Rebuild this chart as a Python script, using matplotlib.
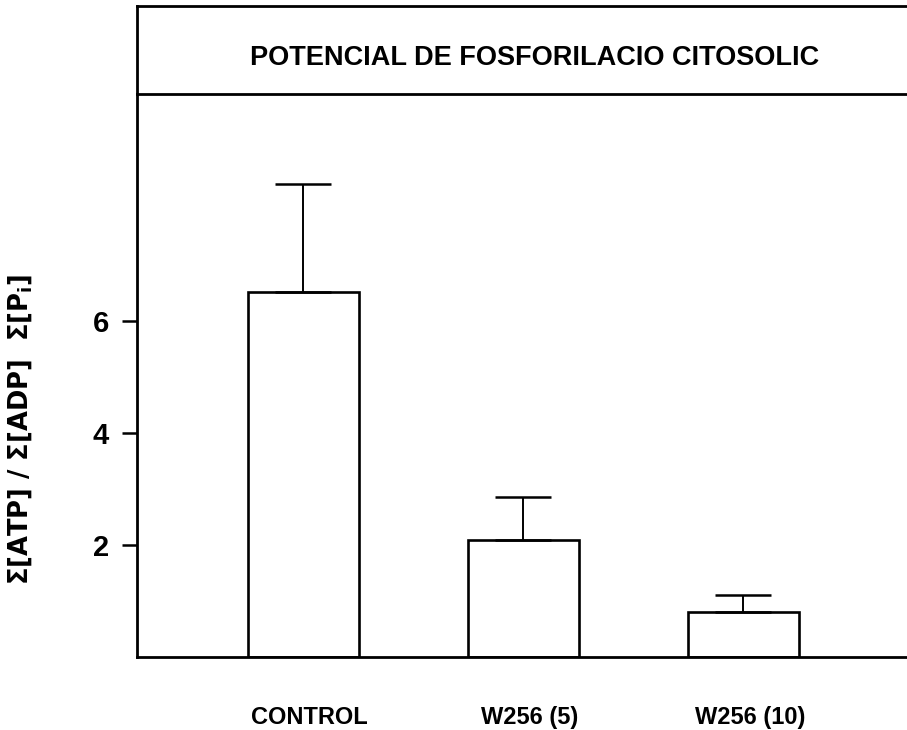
import numpy as np
import matplotlib
matplotlib.use("Agg")
import matplotlib.pyplot as plt

plt.rcParams['font.family'] = ['Liberation Sans', 'DejaVu Sans']

# dades llegides de la figura
grups = ['CONTROL', 'W256 (5)', 'W256 (10)']
mitjanes = [6.52, 2.09, 0.80]
errors = [1.93, 0.77, 0.30]
yticks = [2, 4, 6]

fig = plt.figure(figsize=(9.07, 7.3), dpi=100)

# eix principal
ax = fig.add_axes([0.151, 0.100, 0.849, 0.771])
x = np.arange(len(grups))
ax.bar(x, mitjanes, width=0.505, color='white', edgecolor='black', linewidth=1.9, zorder=2)
ax.errorbar(x, mitjanes, yerr=[np.zeros(len(errors)), errors], fmt='none',
            ecolor='black', elinewidth=1.4, capsize=20, capthick=1.8, zorder=3)

ax.set_xlim(-0.755, 2.745)
ax.set_ylim(0, 10.05)
ax.set_yticks(yticks)
ax.set_yticklabels([str(t) for t in yticks], fontsize=21, fontweight='bold')
ax.set_xticks([])
ax.tick_params(axis='y', direction='out', length=11, width=1.8, pad=9)
for s in ['top', 'right']:
    ax.spines[s].set_visible(False)
for s in ['left', 'bottom']:
    ax.spines[s].set_linewidth(2.0)

for xi, g in zip(x, grups):
    ax.text(xi + 0.03, -1.08, g, ha='center', va='center', fontsize=17, fontweight='bold')

# etiqueta de l'eix y (DejaVu es mes ample, com l'original)
ax.set_ylabel('Σ[ATP] / Σ[ADP]  Σ[P$_\\mathregular{i}$]', fontsize=18.5, fontweight='bold',
              family='DejaVu Sans')
ax.yaxis.set_label_coords(-0.134, 0.405)

# caixa del titol
tax = fig.add_axes([0.151, 0.871, 0.849, 0.121])
tax.set_xticks([])
tax.set_yticks([])
for s in tax.spines.values():
    s.set_linewidth(2.0)
tax.spines['right'].set_visible(False)
fig.text(0.589, 0.921, 'POTENCIAL DE FOSFORILACIO CITOSOLIC', ha='center', va='center',
         fontsize=19.5, fontweight='bold')

fig.savefig('out.png', dpi=100, facecolor='white')
